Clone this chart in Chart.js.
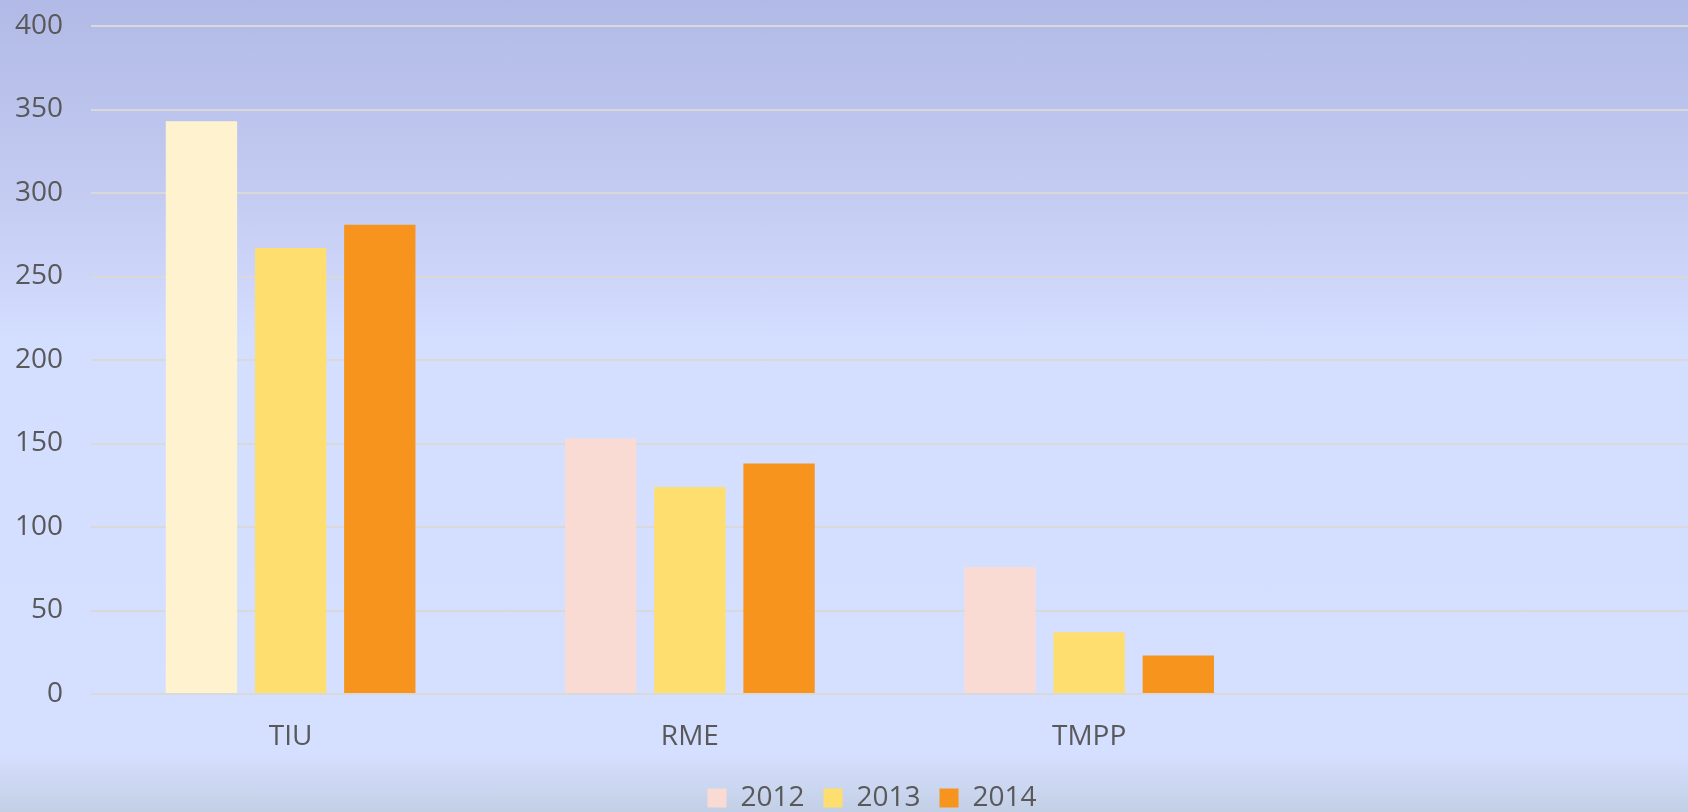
<!DOCTYPE html>
<html>
<head>
<meta charset="utf-8">
<script src="https://cdn.jsdelivr.net/npm/chart.js@4"></script>
<style>
  html, body { margin: 0; padding: 0; overflow: hidden; }
  #wrap {
    width: 1688px; height: 812px; position: relative; overflow: hidden;
    background: linear-gradient(to bottom, #B1BAE6 0px, #C4CCF2 200px, #D4DEFF 340px, #D5DFFF 755px, #C3CFE5 812px);
  }
  canvas { display: block; }
</style>
</head>
<body>
<div id="wrap"><canvas id="c" width="1688" height="822"></canvas></div>
<script>
const categories = ['TIU', 'RME', 'TMPP', ''];
const seriesNames = ['2012', '2013', '2014'];
const values2012 = [343, 153, 76, null];
const values2013 = [267, 124, 37, null];
const values2014 = [281, 138, 23, null];
const yTicks = [0, 50, 100, 150, 200, 250, 300, 350, 400];

const colors2012 = ['#FFF3CF', '#FADBD4', '#FADBD4', '#FADBD4'];
const color2013 = '#FEDE6E';
const color2014 = '#F7941E';
const textColor = '#595959';
const fontFamily = '"Open Sans", "Noto Sans", sans-serif';

Chart.defaults.font.family = fontFamily;
Chart.defaults.color = textColor;

const shiftLegend = {
  id: 'shiftLegend',
  afterLayout(chart) {
    if (chart.legend) { chart.legend.left += 28; chart.legend.right += 28; }
  }
};

new Chart(document.getElementById('c'), {
  type: 'bar',
  data: {
    labels: categories,
    datasets: [
      { label: seriesNames[0], data: values2012, backgroundColor: colors2012 },
      { label: seriesNames[1], data: values2013, backgroundColor: color2013 },
      { label: seriesNames[2], data: values2014, backgroundColor: color2014 }
    ]
  },
  plugins: [shiftLegend],
  options: {
    responsive: false,
    animation: false,
    devicePixelRatio: 1,
    layout: { padding: { top: 26, right: 0, left: 0, bottom: 0 } },
    datasets: { bar: { categoryPercentage: 0.67, barPercentage: 0.8 } },
    scales: {
      x: {
        grid: { display: false },
        border: { display: false },
        ticks: { font: { size: 28 }, padding: 18, color: textColor },
        afterFit: (s) => { s.height = 71; }
      },
      y: {
        min: 0, max: 400,
        afterBuildTicks: (s) => { s.ticks = yTicks.map(v => ({ value: v })); },
        grid: { color: '#D9D9D9', lineWidth: 2, drawTicks: false },
        border: { display: false },
        ticks: { font: { size: 28 }, padding: 28, color: textColor },
        afterFit: (s) => { s.width = 91; s.paddingTop = 0; s.paddingBottom = 0; }
      }
    },
    plugins: {
      legend: {
        position: 'bottom',
        labels: {
          font: { size: 28 },
          color: textColor,
          boxWidth: 19, boxHeight: 19,
          padding: 19,
          generateLabels: (chart) => chart.data.datasets.map((d, i) => ({
            text: d.label,
            fillStyle: i === 0 ? '#FADBD4' : d.backgroundColor,
            strokeStyle: 'rgba(0,0,0,0)',
            lineWidth: 0,
            fontColor: textColor,
            datasetIndex: i,
            hidden: false
          }))
        }
      },
      tooltip: { enabled: false }
    }
  }
});
</script>
</body>
</html>
